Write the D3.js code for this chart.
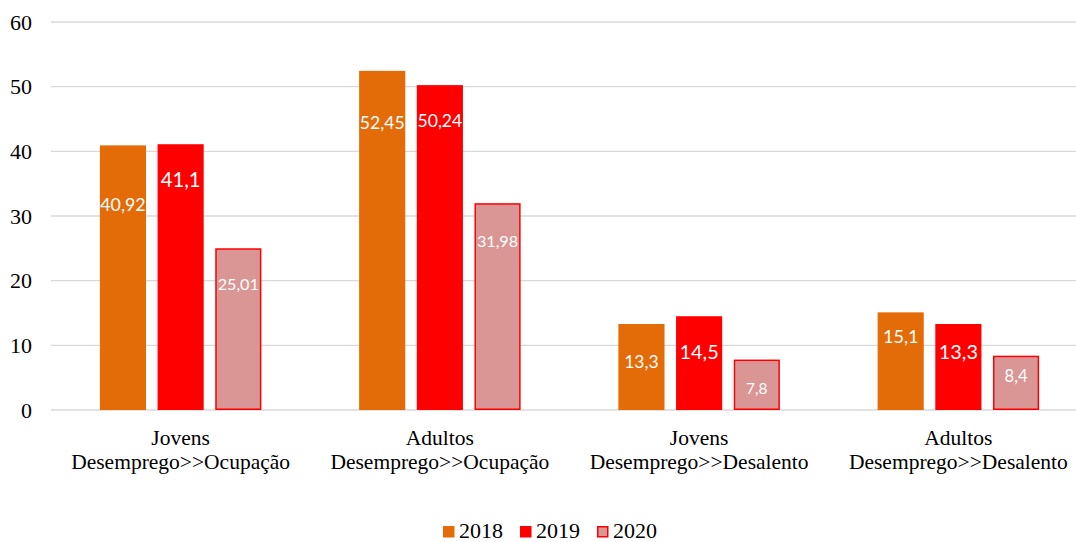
<!DOCTYPE html>
<html>
<head>
<meta charset="utf-8">
<script src="https://cdn.jsdelivr.net/npm/d3@7"></script>
<style>
  html, body { margin: 0; padding: 0; background: #fff; }
  svg { display: block; }
</style>
</head>
<body>
<svg id="chart" width="1076" height="542"></svg>
<script>
// Transitions out of unemployment, by age group and year (%)
const categories = [
  ["Jovens", "Desemprego>>Ocupação"],
  ["Adultos", "Desemprego>>Ocupação"],
  ["Jovens", "Desemprego>>Desalento"],
  ["Adultos", "Desemprego>>Desalento"]
];
const years = ["2018", "2019", "2020"];
const values2018 = [40.92, 52.45, 13.3, 15.1];
const values2019 = [41.1, 50.24, 14.5, 13.3];
const values2020 = [25.01, 31.98, 7.8, 8.4];
const yTicks = [0, 10, 20, 30, 40, 50, 60];

// Where each value label sits inside its bar (in axis units) and its type size
const labelAnchor = [
  [31.7, 44.5, 7.4, 11.4],
  [35.6, 44.7, 9.0, 9.0],
  [19.5, 26.1, 3.4, 5.3]
];
const labelSize = [
  [17.8, 17.6, 17.5, 18.1],
  [20.3, 17.6, 19.9, 19.9],
  [16.2, 16.2, 15.4, 16.6]
];

const seriesValues = [values2018, values2019, values2020];
const fills = ["#E36C09", "#FF0000", "#D99694"];
const strokes = [null, null, "#FF0000"];

const svg = d3.select("#chart");
const serif = "'Liberation Serif', 'Times New Roman', Times, serif";
const labelFont = "Lato, 'Open Sans', sans-serif";
const serifSize = 21.5;

const y = d3.scaleLinear().domain([0, 60]).range([410, 22]);
const catIdx = categories.map((_, i) => i);
const x0 = d3.scaleBand().domain(catIdx).range([51, 1088]).paddingInner(0).paddingOuter(0);
const x1 = d3.scaleBand().domain(years).range([-80.75, 80.75]).paddingInner(0.2);

// Horizontal gridlines
svg.append("g")
  .selectAll("line")
  .data(yTicks)
  .join("line")
  .attr("x1", 51)
  .attr("x2", 1076)
  .attr("y1", d => y(d))
  .attr("y2", d => y(d))
  .attr("stroke", "#D9D9D9")
  .attr("stroke-width", 1.3);

// Y axis labels
const yAxis = d3.axisLeft(y).tickValues(yTicks).tickSize(0).tickPadding(0).tickFormat(d3.format("d"));
svg.append("g")
  .attr("transform", "translate(32,0)")
  .call(yAxis)
  .call(g => g.select(".domain").remove())
  .call(g => g.selectAll("text")
    .attr("font-family", serif)
    .attr("font-size", 22)
    .attr("fill", "#000")
    .attr("dy", "0.33em"));

// Bars
const bars = svg.append("g");
seriesValues.forEach((vals, s) => {
  const inset = strokes[s] ? 0.75 : 0;
  bars.selectAll(null)
    .data(vals)
    .join("rect")
    .attr("x", (d, i) => x0(i) + x0.bandwidth() / 2 + x1(years[s]) + inset)
    .attr("y", d => y(d) + inset)
    .attr("width", x1.bandwidth() - 2 * inset)
    .attr("height", d => y(0) - y(d) - 2 * inset)
    .attr("fill", fills[s])
    .attr("stroke", strokes[s] || "none")
    .attr("stroke-width", 1.5);
});

// Value labels
const fmt = v => String(v).replace(".", ",");
const labels = svg.append("g");
seriesValues.forEach((vals, s) => {
  labels.selectAll(null)
    .data(vals)
    .join("text")
    .attr("x", (d, i) => x0(i) + x0.bandwidth() / 2 + x1(years[s]) + x1.bandwidth() / 2)
    .attr("y", (d, i) => y(labelAnchor[s][i]))
    .attr("dy", "0.36em")
    .attr("text-anchor", "middle")
    .attr("font-family", labelFont)
    .attr("font-size", (d, i) => labelSize[s][i])
    .attr("fill", "#fff")
    .text(d => fmt(d));
});

// Category labels (two lines each)
const cats = svg.append("g");
categories.forEach((lines, i) => {
  lines.forEach((line, k) => {
    cats.append("text")
      .attr("text-anchor", "middle")
      .attr("font-family", serif)
      .attr("font-size", serifSize)
      .attr("fill", "#000")
      .attr("x", x0(i) + x0.bandwidth() / 2)
      .attr("y", 445 + k * 24)
      .text(line);
  });
});

// Legend
const legend = svg.append("g").attr("transform", "translate(443,0)");
years.forEach((yr, s) => {
  const inset = strokes[s] ? 0.75 : 0;
  const g = legend.append("g").attr("transform", `translate(${s * 77},0)`);
  g.append("rect")
    .attr("x", inset)
    .attr("y", 526 + inset)
    .attr("width", 11.5 - 2 * inset)
    .attr("height", 11.5 - 2 * inset)
    .attr("fill", fills[s])
    .attr("stroke", strokes[s] || "none")
    .attr("stroke-width", 1.5);
  g.append("text")
    .attr("x", 16)
    .attr("y", 538)
    .attr("font-family", serif)
    .attr("font-size", 22)
    .attr("fill", "#000")
    .text(yr);
});
</script>
</body>
</html>
